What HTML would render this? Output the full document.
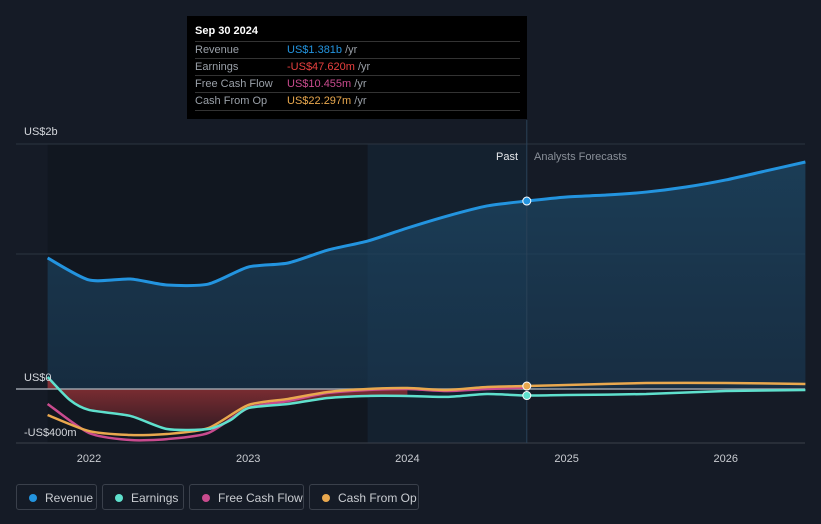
<!DOCTYPE html>
<html><head><meta charset="utf-8">
<style>
body{margin:0;background:#151b26;font-family:"Liberation Sans",sans-serif;}
#wrap{position:relative;width:821px;height:524px;overflow:hidden;background:#151b26;}
svg{position:absolute;left:0;top:0;}
.tip{position:absolute;left:187px;top:16px;width:340px;height:103px;background:#000;font-size:11px;color:#9aa0a8;}
.tip .hd{position:absolute;left:8px;top:9px;color:#fff;font-weight:bold;font-size:11px;}
.row{position:absolute;left:8px;width:325px;height:17px;border-top:1px solid #333;line-height:17px;}
.row span.l{position:absolute;left:0;}
.row span.v{position:absolute;left:92px;}
.leg{position:absolute;top:484px;height:26px;border:1px solid #3a404b;border-radius:3px;color:#c9ccd1;font-size:12px;line-height:26px;box-sizing:border-box;}
.leg i{position:absolute;left:12px;top:9px;width:8px;height:8px;border-radius:50%;}
.leg span{position:absolute;left:28px;}
</style></head><body>
<div id="wrap">
<svg id="chart" width="821" height="524"></svg>
<div class="tip">
 <div class="hd">Sep 30 2024</div>
 <div class="row" style="top:25px"><span class="l">Revenue</span><span class="v" style="color:#2394df">US$1.381b <span style="color:#9aa0a8">/yr</span></span></div>
 <div class="row" style="top:42px"><span class="l">Earnings</span><span class="v" style="color:#e8403f">-US$47.620m <span style="color:#9aa0a8">/yr</span></span></div>
 <div class="row" style="top:59px"><span class="l">Free Cash Flow</span><span class="v" style="color:#c94b8e">US$10.455m <span style="color:#9aa0a8">/yr</span></span></div>
 <div class="row" style="top:76px;border-bottom:1px solid #333"><span class="l">Cash From Op</span><span class="v" style="color:#e9a84e">US$22.297m <span style="color:#9aa0a8">/yr</span></span></div>
</div>
<div class="leg" style="left:16px;width:81px"><i style="background:#2394df"></i><span>Revenue</span></div>
<div class="leg" style="left:102px;width:82px"><i style="background:#5fe0cd"></i><span>Earnings</span></div>
<div class="leg" style="left:189px;width:115px"><i style="background:#c94b8e"></i><span>Free Cash Flow</span></div>
<div class="leg" style="left:309px;width:110px"><i style="background:#e9a84e"></i><span>Cash From Op</span></div>
</div>
<script>
const revYears=[2021.74,2022,2022.26,2022.49,2022.75,2023,2023.25,2023.5,2023.75,2024,2024.25,2024.5,2024.75,2025,2025.25,2025.5,2025.75,2026,2026.25,2026.5];
const revenue=[963,801,808,764,771,896,926,1021,1087,1183,1271,1345,1381,1411,1425,1447,1484,1536,1602,1668];
const earnYears=[2021.74,2021.88,2022,2022.26,2022.49,2022.75,2022.89,2023,2023.25,2023.5,2023.75,2024,2024.25,2024.5,2024.75,2025,2025.5,2026,2026.5];
const earnings=[88,-81,-154,-198,-294,-294,-228,-140,-110,-66,-51,-51,-58,-37,-48,-44,-37,-15,-7];
const fcfYears=[2021.74,2022,2022.26,2022.49,2022.75,2023,2023.25,2023.5,2023.75,2024,2024.25,2024.5,2024.75];
const fcf=[-110,-323,-375,-368,-323,-140,-88,-29,-7,0,-15,0,10];
const cfoYears=[2021.74,2022,2022.26,2022.49,2022.75,2023,2023.25,2023.5,2023.75,2024,2024.25,2024.5,2024.75,2025,2025.5,2026,2026.5];
const cfo=[-191,-309,-338,-331,-287,-118,-73,-22,0,7,-7,15,22,29,44,44,37];
const xTicks=[2022,2023,2024,2025,2026];
const NS="http://www.w3.org/2000/svg";
const svg=document.getElementById('chart');
const X=y=>89+(y-2022)*159.2;
const Y=v=>389-v*0.1361;
function el(t,a,p){const e=document.createElementNS(NS,t);for(const k in a)e.setAttribute(k,a[k]);(p||svg).appendChild(e);return e;}
function path(xs,vs){const P=xs.map((x,i)=>[X(x),Y(vs[i])]);let d='M'+P[0][0]+','+P[0][1];
for(let i=0;i<P.length-1;i++){const p0=P[i-1]||P[i],p1=P[i],p2=P[i+1],p3=P[i+2]||p2;const t=0.12;
d+=` C${p1[0]+(p2[0]-p0[0])*t},${p1[1]+(p2[1]-p0[1])*t} ${p2[0]-(p3[0]-p1[0])*t},${p2[1]-(p3[1]-p1[1])*t} ${p2[0]},${p2[1]}`;}return d;}
const defs=el('defs',{});
const g1=el('linearGradient',{id:'rg',x1:0,y1:0,x2:0,y2:1},defs);
el('stop',{offset:0,'stop-color':'#1d4866','stop-opacity':0.75},g1);el('stop',{offset:1,'stop-color':'#1a3a55','stop-opacity':0.6},g1);
const g2=el('linearGradient',{id:'eg',x1:0,y1:0,x2:0,y2:1},defs);
el('stop',{offset:0,'stop-color':'#9b3438'},g2);el('stop',{offset:1,'stop-color':'#3a1c24'},g2);
let r=el('rect',{x:X(2021.74),y:144,width:X(2023.75)-X(2021.74),height:299,fill:'#111720'});

r=el('rect',{x:X(2023.75),y:144,width:X(2024.75)-X(2023.75),height:299,fill:'#14212f'});

[[144],[254]].forEach(([y])=>{const l=el('line',{x1:16,x2:805,y1:y,y2:y,stroke:'#2c3440','stroke-width':1});});
const rp=path(revYears,revenue);
let a=el('path',{d:rp+` L${X(2026.5)},${Y(0)} L${X(2021.74)},${Y(0)} Z`,fill:'url(#rg)'});

const ep=path(earnYears.slice(0,12),earnings.slice(0,12));
a=el('path',{d:ep+` L${X(2024)},${Y(0)} L${X(2021.74)},${Y(0)} Z`,fill:'url(#eg)',opacity:0.9});

let z=el('line',{x1:16,x2:805,y1:Y(0),y2:Y(0),stroke:'#9aa0a8','stroke-width':1.5});

let ax=el('line',{x1:16,x2:805,y1:443,y2:443,stroke:'#3a404b','stroke-width':1});

const series=[[fcfYears,fcf,'#c94b8e','fcf-line'],[cfoYears,cfo,'#e9a84e','cfo-line'],[earnYears,earnings,'#5fe0cd','earnings-line'],[revYears,revenue,'#2394df','revenue-line']];
series.forEach(([xs,vs,c,n])=>{const p=el('path',{d:path(xs,vs),fill:'none',stroke:c,'stroke-width':n=='revenue-line'?3:2.5});});
let vl=el('line',{x1:X(2024.75),x2:X(2024.75),y1:120,y2:443,stroke:'#2a4258','stroke-width':1});

[[revenue[12],'#2394df'],[earnings[14],'#5fe0cd'],[cfo[12],'#e9a84e']].forEach(([v,c])=>{const m=el('circle',{cx:X(2024.75),cy:Y(v),r:4,fill:c,stroke:'#fff','stroke-width':1});});
function txt(x,y,s,o){const t=el('text',Object.assign({x:x,y:y,fill:'#d4d7dc','font-size':11,'font-family':'Liberation Sans, sans-serif'},o||{}));t.textContent=s;return t;}
let t=txt(24,135,'US$2b');
t=txt(24,381,'US$0');
t=txt(24,436,'-US$400m');
t=txt(518,160,'Past',{'text-anchor':'end',fill:'#e6e8eb'});
t=txt(534,160,'Analysts Forecasts',{fill:'#8a9099'});
xTicks.forEach(y=>{const tt=txt(X(y),462,String(y),{'text-anchor':'middle',fill:'#c9ccd1'});});
</script>
</body></html>
